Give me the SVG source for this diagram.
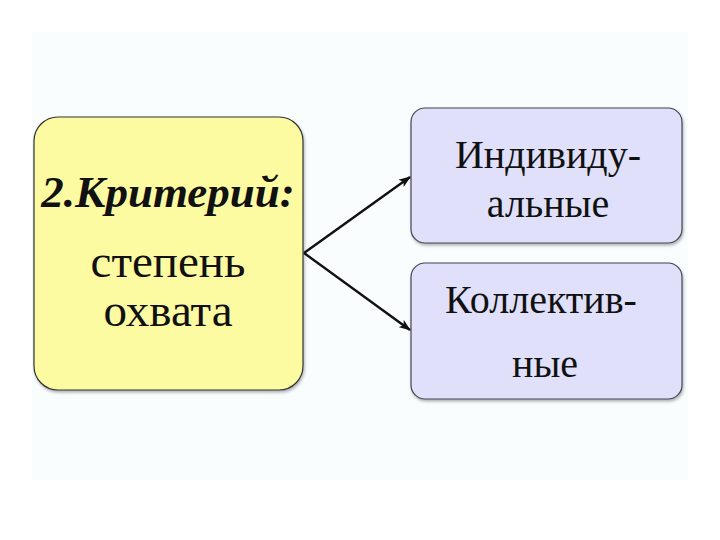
<svg xmlns="http://www.w3.org/2000/svg" width="720" height="540" viewBox="0 0 720 540">
<defs>
<marker id="ah" markerWidth="12" markerHeight="9" refX="11" refY="4.5" orient="auto" markerUnits="userSpaceOnUse">
<path d="M0,0 L12,4.5 L0,9 L3,4.5 Z" fill="#111"/>
</marker>
<filter id="sh" x="-5%" y="-5%" width="110%" height="110%">
<feDropShadow dx="1" dy="2" stdDeviation="1.5" flood-color="#000" flood-opacity="0.3"/>
</filter>
</defs>
<style>
.t{font-family:"Liberation Serif","Times New Roman",serif;font-size:40px;fill:#111;text-anchor:middle}
.l{font-size:47px}
.b{font-weight:bold;font-style:italic;font-size:45px}
.y{fill:#fdfba2;stroke:#333;stroke-width:1.2}
.v{fill:#e0e0fa;stroke:#445;stroke-width:1.2}
.c{stroke:#111;stroke-width:2.4;fill:none}
</style>
<rect x="0" y="0" width="720" height="540" fill="#fff"/>
<rect x="32" y="32" width="656" height="448" fill="#f9fdfd"/>
<g id="criterion">
<rect class="y" x="34" y="117" width="269" height="273" rx="24" filter="url(#sh)"/>
<text class="t b" x="168" y="207">2.Критерий:</text>
<text class="t l" x="168" y="277">степень</text>
<text class="t l" x="168" y="326">охвата</text>
</g>
<g id="individual">
<rect class="v" x="411" y="108" width="271" height="135" rx="14" filter="url(#sh)"/>
<text class="t" x="548" y="168">Индивиду-</text>
<text class="t" x="548" y="217">альные</text>
</g>
<g id="collective">
<rect class="v" x="411" y="263" width="271" height="136" rx="14" filter="url(#sh)"/>
<text class="t" x="541" y="313">Коллектив-</text>
<text class="t" x="545" y="377">ные</text>
</g>
<g id="connectors">
<line class="c" x1="304" y1="253" x2="410" y2="177" marker-end="url(#ah)"/>
<line class="c" x1="304" y1="253" x2="410" y2="330" marker-end="url(#ah)"/>
</g>
</svg>
